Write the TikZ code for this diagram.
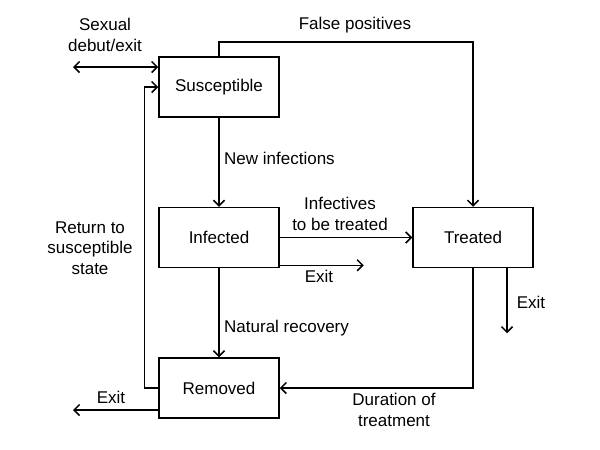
\documentclass[tikz,border=0pt]{standalone}
\usepackage{fontspec}
\setmainfont{Liberation Sans}
\usetikzlibrary{arrows.meta}
\begin{document}
\begin{tikzpicture}[x=1pt,y=-1pt,
  every node/.style={font=\fontsize{17}{20.5}\selectfont},
  box/.style={draw,line width=1.5pt,minimum width=120pt,minimum height=60pt,inner sep=0pt},
  lbl/.style={align=center,inner sep=0pt},
  conn/.style={line width=1.5pt,-{Straight Barb[length=5.5pt,width=11pt,line width=1.5pt]}},
  dconn/.style={line width=1.5pt,{Straight Barb[length=5.5pt,width=11pt,line width=1.5pt]}-{Straight Barb[length=5.5pt,width=11pt,line width=1.5pt]}}]
\useasboundingbox (0,0) rectangle (600,450);
\node[box] (sus) at (219,87) {Susceptible};
\node[box] (inf) at (219,237.5) {Infected};
\node[box] (rem) at (219,388) {Removed};
\node[box] (tre) at (473,237.5) {Treated};
\coordinate (dl) at (73,67);
\coordinate (rx) at (73,410);
\coordinate (fp) at (219,42);
% connectors
\draw[dconn] (dl) -- (dl -| sus.west);
\draw[conn] (rem.west) -- ++(-14,0) |- (sus.west);
\draw[conn] (sus.north) -- (fp) -| (tre.north);
\draw[conn] (sus.south) -- (inf.north);
\draw[conn] (inf.east) -- (tre.west);
\draw[conn] ([yshift=3pt]inf.south east) -- ++(84,0);
\draw[conn] (inf.south) -- (rem.north);
\draw[conn] ([xshift=34pt]tre.south) -- ++(0,65);
\draw[conn] (tre.south) |- (rem.east);
\draw[conn] (rx -| rem.west) -- (rx);
% labels
\node[lbl] (l1) at (105,35) {Sexual\\debut/exit};
\node[lbl] (l2) at (355,25) {False positives};
\node[lbl,anchor=west] (l3) at (224,158) {New infections};
\node[lbl] (l4) at (90,248) {Return to\\susceptible\\state};
\node[lbl] (l5) at (340,214) {Infectives\\to be treated};
\node[lbl] (l6) at (319,276) {Exit};
\node[lbl] (l7) at (531,302) {Exit};
\node[lbl,anchor=west] (l8) at (224,328) {Natural recovery};
\node[lbl] (l9) at (111,397) {Exit};
\node[lbl] (l10) at (394,410) {Duration of\\treatment};
\end{tikzpicture}
\end{document}
